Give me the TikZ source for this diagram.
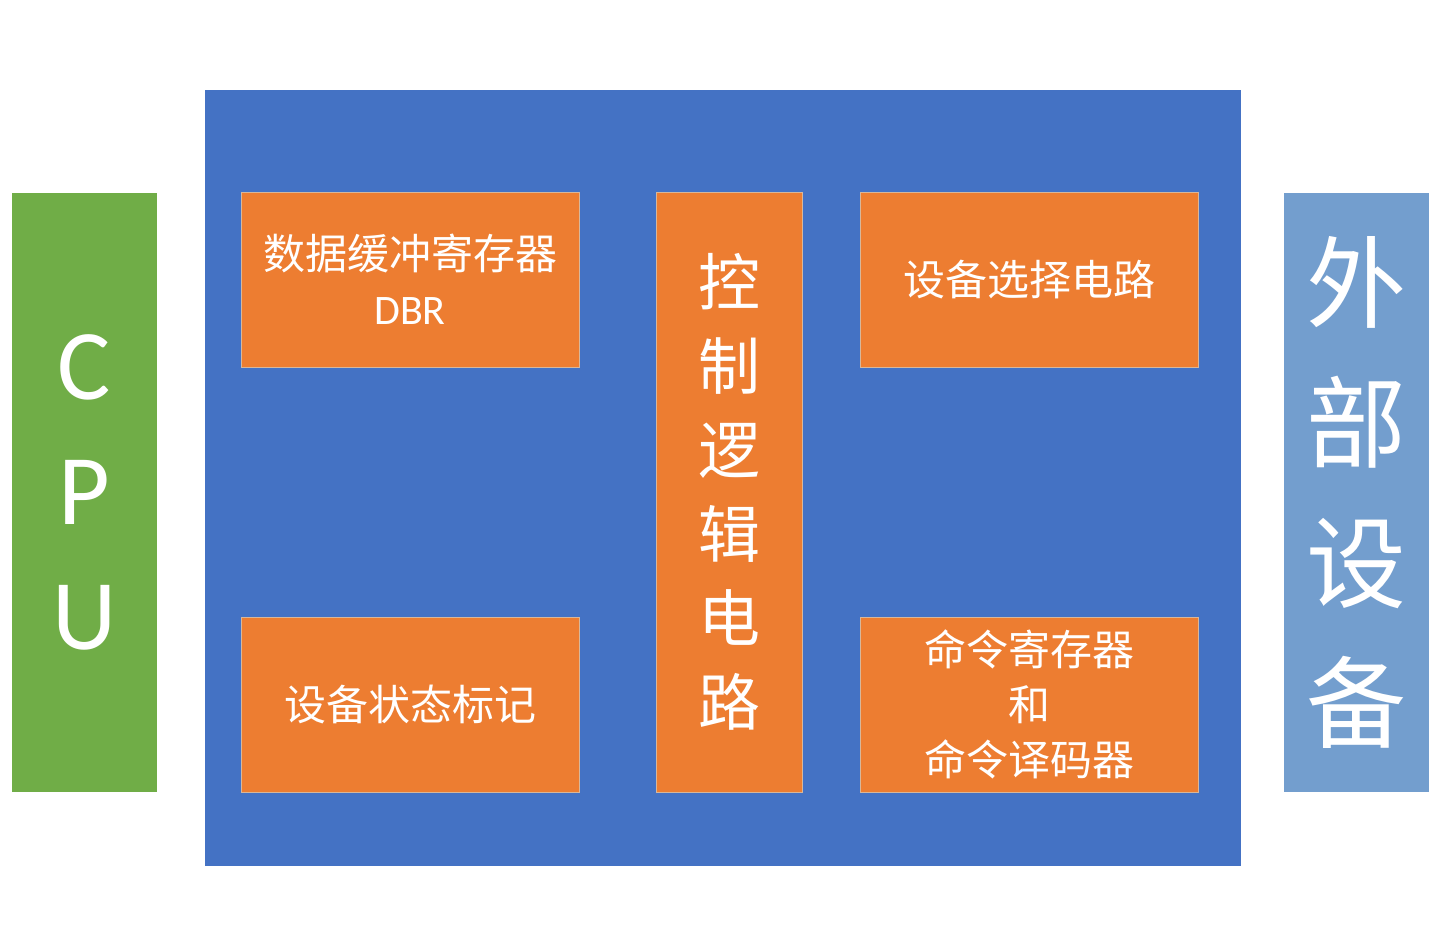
\documentclass[tikz,border=0pt]{standalone}
\usepackage{fontspec}
\newfontfamily\cjk{Noto Sans CJK SC}
\newfontfamily\lat{Carlito}
\definecolor{cpugreen}{HTML}{70AD47}
\definecolor{ifblue}{HTML}{4472C4}
\definecolor{regorange}{HTML}{ED7D31}
\definecolor{devblue}{HTML}{739ECE}
\definecolor{boxedge}{HTML}{D8B79A}

\begin{document}
\begin{tikzpicture}[x=1pt, y=-1pt,
  reg/.style={fill=regorange, draw=boxedge, line width=1pt, text=white, align=center,
    inner sep=0pt, minimum width=338pt, minimum height=175pt, font=\cjk\fontsize{42}{55}\selectfont},
  side/.style={text=white, align=center, inner sep=0pt, minimum width=145pt, minimum height=599pt}
]
\useasboundingbox (0,0) rectangle (1449,934);

% interface board
\node[fill=ifblue, inner sep=0pt, minimum width=1036pt, minimum height=776pt] (iface) at (723,478) {};

\node[reg] (dbr) at (410,279.5) {数据缓冲寄存器\\{\lat DBR}};
\node[reg] (devsel) at (1029,279.5) {设备选择电路};
\node[reg] (status) at (410,704.5) {设备状态标记};
\node[reg] (cmd) at (1029,704.5) {命令寄存器\\和\\命令译码器};
\node[reg, minimum width=146pt, minimum height=600pt, font=\cjk\fontsize{62}{84}\selectfont] (ctrl) at (729,492)
  {控\\制\\逻\\辑\\电\\路};

% both sides
\node[side, fill=cpugreen, font=\lat\fontsize{100}{125}\selectfont] (cpu) at (84.5,492.5) {C\\P\\U};
\node[side, fill=devblue, font=\cjk\fontsize{100}{140}\selectfont] (ext) at (1356.5,492.5) {外\\部\\设\\备};
\end{tikzpicture}
\end{document}
